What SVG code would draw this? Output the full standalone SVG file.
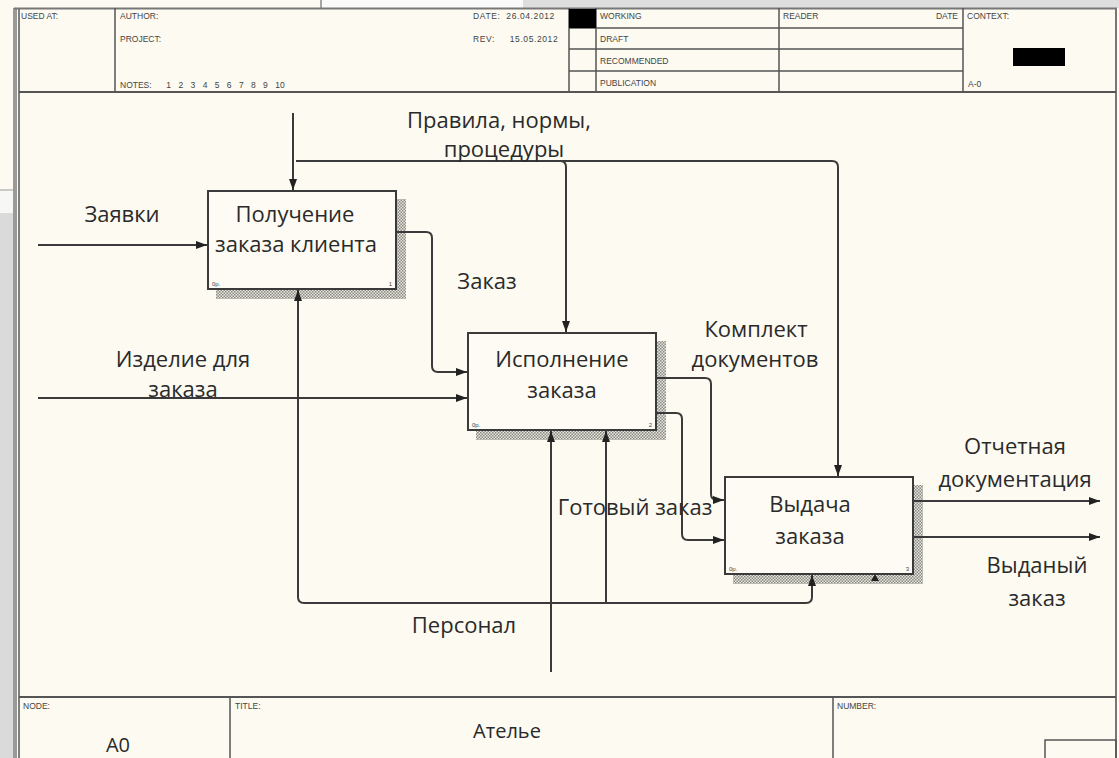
<svg xmlns="http://www.w3.org/2000/svg" width="1119" height="758" viewBox="0 0 1119 758">
<defs>
<pattern id="hatch" width="3" height="3" patternUnits="userSpaceOnUse">
<rect width="3" height="3" fill="#e8e6dc"/>
<rect width="1.5" height="1.5" fill="#8a8a84"/>
<rect x="1.5" y="1.5" width="1.5" height="1.5" fill="#8a8a84"/>
</pattern>
<marker id="arr" markerWidth="12" markerHeight="10" refX="11" refY="5" orient="auto" markerUnits="userSpaceOnUse">
<path d="M0,1 L11,5 L0,9 z" fill="#222"/>
</marker>
<style>
.bg{fill:#fcfaf1}
.sm{font-family:"Liberation Sans",Arial,sans-serif;font-size:8.5px;fill:#444}
.lb{font-family:"Open Sans","Noto Sans",sans-serif;font-size:22px;fill:#2a2a2a;text-anchor:middle}
.box{fill:#fdfbf3;stroke:#3a3a3a;stroke-width:2}
.con{fill:none;stroke:#3a3a3a;stroke-width:2}
.hl{stroke:#555;stroke-width:1.5}
</style>
</defs>
<rect class="bg" x="0" y="0" width="1119" height="758"/>
<rect x="322" y="0" width="201" height="8" fill="#fafafa"/>
<rect x="523" y="0" width="596" height="8" fill="#dedede"/>
<line x1="321" y1="0" x2="321" y2="8" stroke="#888" stroke-width="1.5"/>
<rect x="0" y="191" width="13" height="22" fill="#f7f7f5"/>
<rect x="0" y="213" width="13" height="545" fill="#dadada"/>
<line x1="0" y1="190" x2="13" y2="190" stroke="#999" stroke-width="1"/>
<g id="frame">
<rect x="13" y="8" width="4" height="750" fill="#9a9a96"/>
<line x1="19" y1="8" x2="19" y2="758" stroke="#555" stroke-width="1.5"/>
<line x1="14" y1="8.5" x2="1117" y2="8.5" stroke="#777" stroke-width="2"/>
<line x1="1116" y1="8" x2="1116" y2="758" stroke="#777" stroke-width="2"/>
<line x1="19" y1="92" x2="1116" y2="92" stroke="#555" stroke-width="2"/>
<line class="hl" x1="115" y1="8" x2="115" y2="92"/>
<line class="hl" x1="569" y1="8" x2="569" y2="92"/>
<line class="hl" x1="596" y1="8" x2="596" y2="92"/>
<line class="hl" x1="779" y1="8" x2="779" y2="92"/>
<line class="hl" x1="963" y1="8" x2="963" y2="92"/>
<line class="hl" x1="569" y1="28" x2="963" y2="28"/>
<line class="hl" x1="569" y1="49" x2="963" y2="49"/>
<line class="hl" x1="569" y1="71" x2="963" y2="71"/>
<rect x="569" y="9" width="27" height="19" fill="#000"/>
<rect x="1013" y="48" width="52" height="18" fill="#000"/>
<text class="sm" x="21" y="19">USED AT:</text>
<text class="sm" x="120" y="19">AUTHOR:</text>
<text class="sm" x="120" y="42">PROJECT:</text>
<text class="sm" x="120" y="88" xml:space="preserve" word-spacing="5">NOTES:  1 2 3 4 5 6 7 8 9 10</text>
<text class="sm" x="473" y="19" xml:space="preserve" letter-spacing="0.6">DATE:  26.04.2012</text>
<text class="sm" x="473" y="42" xml:space="preserve" letter-spacing="0.6">REV:     15.05.2012</text>
<text class="sm" x="600" y="19">WORKING</text>
<text class="sm" x="600" y="42">DRAFT</text>
<text class="sm" x="600" y="64">RECOMMENDED</text>
<text class="sm" x="600" y="86">PUBLICATION</text>
<text class="sm" x="783" y="19">READER</text>
<text class="sm" x="958" y="19" text-anchor="end">DATE</text>
<text class="sm" x="967" y="19">CONTEXT:</text>
<text class="sm" x="968" y="87">A-0</text>
<line x1="19" y1="697" x2="1116" y2="697" stroke="#555" stroke-width="2"/>
<line class="hl" x1="230" y1="697" x2="230" y2="758"/>
<line class="hl" x1="833" y1="697" x2="833" y2="758"/>
<rect x="1045" y="740" width="71" height="20" fill="none" stroke="#555" stroke-width="1.5"/>
<text class="sm" x="23" y="709">NODE:</text>
<text class="sm" x="235" y="709">TITLE:</text>
<text class="sm" x="837" y="709">NUMBER:</text>
<text class="lb" x="118" y="752" style="font-size:20px">A0</text>
<text class="lb" x="507" y="738" style="font-size:20px">Ателье</text>
</g>
<g id="box1">
<rect x="396" y="199" width="10" height="100" fill="url(#hatch)"/>
<rect x="216" y="289" width="190" height="10" fill="url(#hatch)"/>
<rect class="box" x="208" y="191" width="188" height="98"/>
<text class="lb" x="295" y="222">Получение</text>
<text class="lb" x="296" y="252">заказа клиента</text>
<text class="sm" x="212" y="286" style="font-size:6px">0p.</text>
<text class="sm" x="392" y="286" style="font-size:6px" text-anchor="end">1</text>
</g>
<g id="box2">
<rect x="656" y="341" width="10" height="99" fill="url(#hatch)"/>
<rect x="476" y="430" width="190" height="10" fill="url(#hatch)"/>
<rect class="box" x="468" y="333" width="188" height="97"/>
<text class="lb" x="562" y="367">Исполнение</text>
<text class="lb" x="562" y="398">заказа</text>
<text class="sm" x="472" y="427" style="font-size:6px">0p.</text>
<text class="sm" x="652" y="427" style="font-size:6px" text-anchor="end">2</text>
</g>
<g id="box3">
<rect x="913" y="485" width="10" height="99" fill="url(#hatch)"/>
<rect x="733" y="574" width="190" height="10" fill="url(#hatch)"/>
<rect class="box" x="725" y="477" width="188" height="97"/>
<text class="lb" x="810" y="512">Выдача</text>
<text class="lb" x="810" y="544">заказа</text>
<text class="sm" x="729" y="571" style="font-size:6px">0p.</text>
<text class="sm" x="909" y="571" style="font-size:6px" text-anchor="end">3</text>
</g>
<g id="connectors">
<path class="con" d="M38,245 H207" marker-end="url(#arr)"/>
<path class="con" d="M293,113 V190" marker-end="url(#arr)"/>
<path class="con" d="M296,161 H560 Q566,161 566,167 V332" marker-end="url(#arr)"/>
<path class="con" d="M560,161 H832 Q838,161 838,167 V476" marker-end="url(#arr)"/>
<path class="con" d="M397,232 H426 Q432,232 432,238 V366 Q432,372 438,372 H467" marker-end="url(#arr)"/>
<path class="con" d="M38,398 H467" marker-end="url(#arr)"/>
<path class="con" d="M657,378 H705 Q711,378 711,384 V494 Q711,500 717,500 H724" marker-end="url(#arr)"/>
<path class="con" d="M657,413 H676 Q682,413 682,419 V534 Q682,540 688,540 H724" marker-end="url(#arr)"/>
<path class="con" d="M551,672 V431" marker-end="url(#arr)"/>
<path class="con" d="M551,603 H806 Q812,603 812,597 V575" marker-end="url(#arr)"/>
<path class="con" d="M551,603 H304 Q298,603 298,597 V290" marker-end="url(#arr)"/>
<path class="con" d="M606,603 V431" marker-end="url(#arr)"/>
<path class="con" d="M914,501 H1100" marker-end="url(#arr)"/>
<path class="con" d="M914,537 H1100" marker-end="url(#arr)"/>
<path d="M871,581 L875,574 L879,581 z" fill="#222"/>
</g>
<g id="labels">
<text class="lb" x="122" y="222">Заявки</text>
<text class="lb" x="499" y="128">Правила, нормы,</text>
<text class="lb" x="504" y="157">процедуры</text>
<text class="lb" x="487" y="289">Заказ</text>
<text class="lb" x="183" y="367">Изделие для</text>
<text class="lb" x="183" y="397">заказа</text>
<text class="lb" x="756" y="337">Комплект</text>
<text class="lb" x="755" y="367">документов</text>
<text class="lb" x="635" y="515">Готовый заказ</text>
<text class="lb" x="1015" y="454">Отчетная</text>
<text class="lb" x="1015" y="487">документация</text>
<text class="lb" x="1037" y="573">Выданый</text>
<text class="lb" x="1037" y="606">заказ</text>
<text class="lb" x="464" y="633">Персонал</text>
</g>
</svg>
